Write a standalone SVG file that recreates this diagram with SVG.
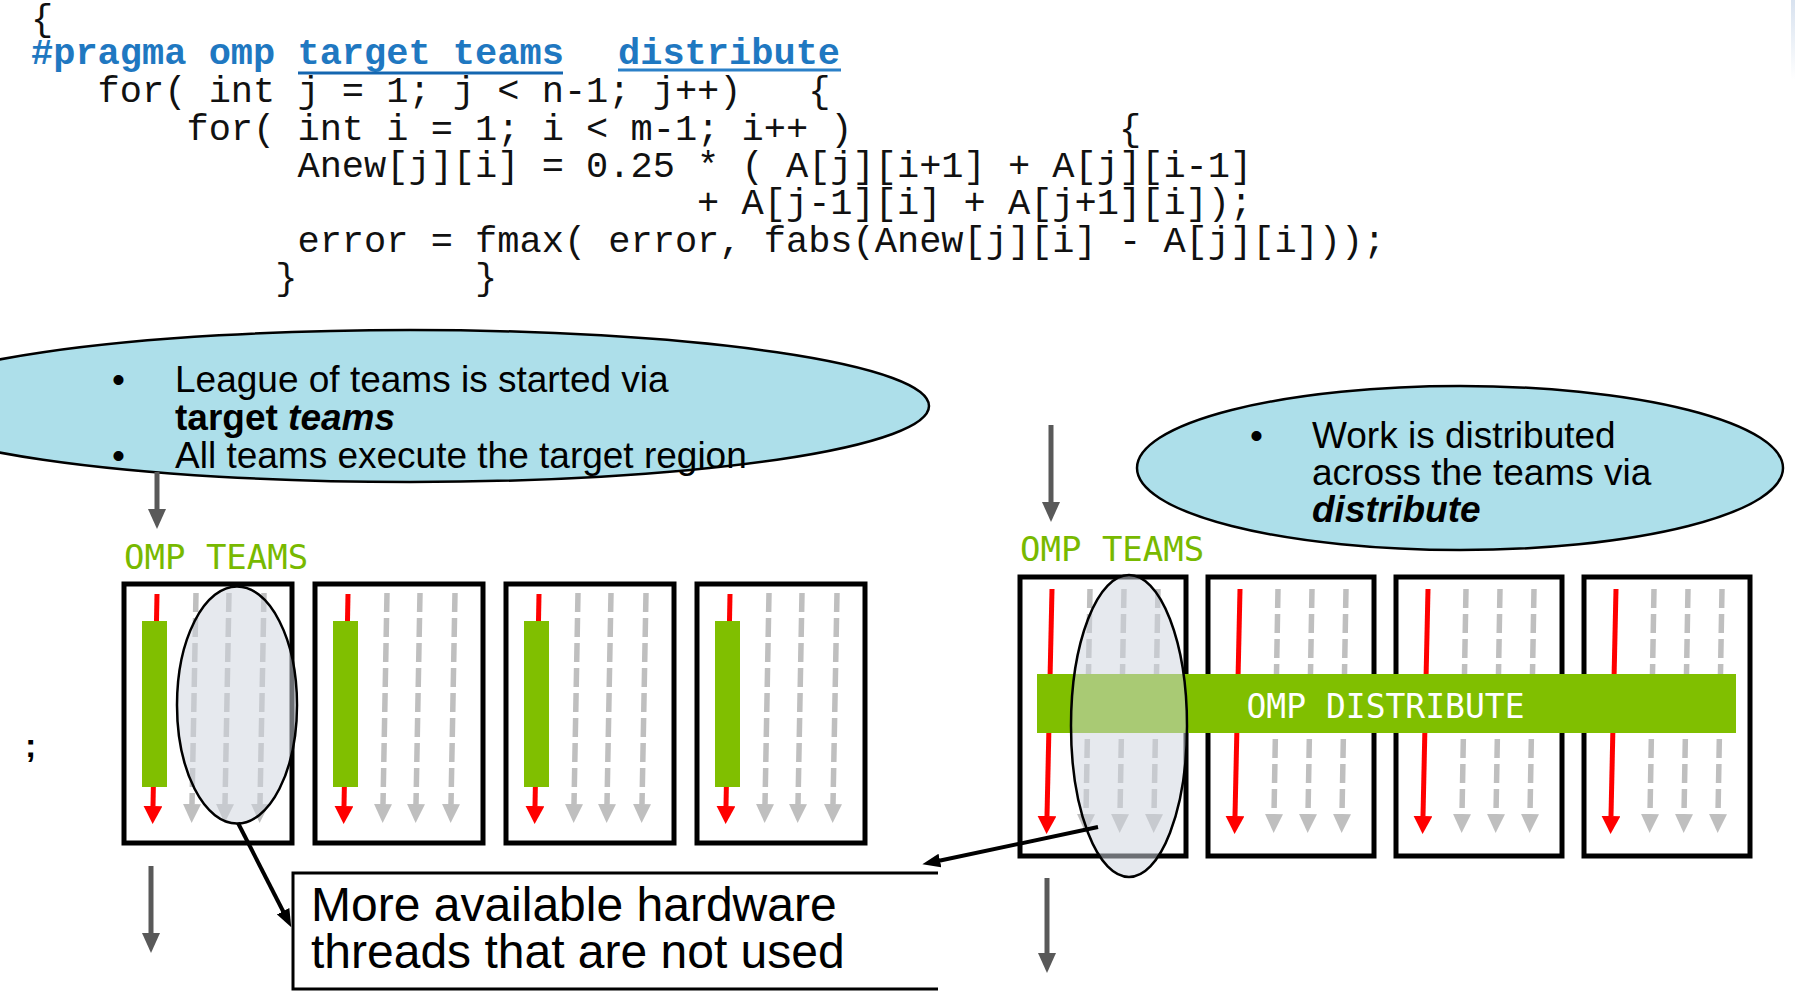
<svg xmlns="http://www.w3.org/2000/svg" xmlns:xlink="http://www.w3.org/1999/xlink" width="1795" height="999" viewBox="0 0 1795 999">
  <style>
    .code { font-family: "Liberation Mono", "Courier New", monospace; font-size: 37px; fill: #111; white-space: pre; }
    .pragma { font-weight: bold; fill: #1f78c1; }
    .bubble { fill: #addfea; stroke: #000; stroke-width: 2.5; }
    .btxt { font-family: "Liberation Sans", Arial, sans-serif; font-size: 37px; fill: #000; }
    .mono { font-family: "DejaVu Sans Mono", "Liberation Mono", monospace; }
    .teamlbl { font-size: 34px; fill: #78b900; }
    .box { fill: #fff; stroke: #000; stroke-width: 5; }
    .red { fill: none; stroke: #ff0000; stroke-width: 5; marker-end: url(#redHead); }
    .thr { fill: none; stroke: #bfbfbf; stroke-width: 5.5; stroke-dasharray: 19 6; marker-end: url(#grayHead); }
    .bar { fill: #80bf00; }
    .lens { fill: #cfd5df; fill-opacity: 0.52; stroke: #000; stroke-width: 2.5; }
    .flow { stroke: #595959; stroke-width: 5; marker-end: url(#flowHead); }
    .ptr { fill: none; stroke: #000; stroke-width: 4; marker-end: url(#ptrHead); }
  </style>
  <defs>
    <marker id="redHead" markerUnits="userSpaceOnUse" markerWidth="18" markerHeight="19" refX="0" refY="9.5" orient="auto">
      <path d="M0,0 L18,9.5 L0,19 z" fill="#ff0000"/>
    </marker>
    <marker id="grayHead" markerUnits="userSpaceOnUse" markerWidth="19" markerHeight="18" refX="0" refY="9" orient="auto">
      <path d="M0,0 L19,9 L0,18 z" fill="#bfbfbf"/>
    </marker>
    <marker id="flowHead" markerUnits="userSpaceOnUse" markerWidth="20" markerHeight="18" refX="0" refY="9" orient="auto">
      <path d="M0,0 L20,9 L0,18 z" fill="#595959"/>
    </marker>
    <marker id="ptrHead" markerUnits="userSpaceOnUse" markerWidth="18" markerHeight="14" refX="2" refY="7" orient="auto">
      <path d="M0,0 L18,7 L0,14 z" fill="#000"/>
    </marker>
    <linearGradient id="edgeShade" x1="0" y1="0" x2="0" y2="1">
      <stop offset="0" stop-color="#d8e2ef"/>
      <stop offset="1" stop-color="#ffffff"/>
    </linearGradient>
    <!-- team box used by "target teams": one busy thread plus three idle ones -->
    <g id="teamIdle">
      <rect class="box" x="0" y="0" width="168" height="259"/>
      <path class="red" d="M33,10 L29,222"/>
      <rect class="bar" x="18" y="37" width="25" height="166"/>
      <path class="thr" d="M72,9 L68,220"/>
      <path class="thr" d="M105,9 L101,220"/>
      <path class="thr" d="M140,9 L136,220"/>
    </g>
    <!-- team box used by "distribute": full-length thread lanes -->
    <g id="teamDist">
      <rect class="box" x="0" y="0" width="166" height="279"/>
      <path class="red" d="M32,12 L27,239"/>
      <path class="thr" d="M70,12 L66,237"/>
      <path class="thr" d="M104,12 L100,237"/>
      <path class="thr" d="M138,12 L134,237"/>
    </g>
  </defs>

  <rect width="1795" height="999" fill="#fff"/>
  <rect x="1791" y="0" width="4" height="80" fill="url(#edgeShade)"/>

  <!-- source listing -->
  <g id="code">
    <text class="code" x="31" y="30">{</text>
    <text class="code pragma" x="31" y="64">#pragma omp target teams</text>
    <text class="code pragma" x="618" y="64">distribute</text>
    <line x1="298" y1="73" x2="563" y2="73" stroke="#1466b0" stroke-width="3"/>
    <line x1="618" y1="70" x2="841" y2="70" stroke="#2b80c8" stroke-width="3"/>
    <text class="code" x="31" y="102" xml:space="preserve">   for( int j = 1; j &lt; n-1; j++)   {</text>
    <text class="code" x="31" y="139.5" xml:space="preserve">       for( int i = 1; i &lt; m-1; i++ )            {</text>
    <text class="code" x="31" y="177" xml:space="preserve">            Anew[j][i] = 0.25 * ( A[j][i+1] + A[j][i-1]</text>
    <text class="code" x="31" y="214" xml:space="preserve">                              + A[j-1][i] + A[j+1][i]);</text>
    <text class="code" x="31" y="251.5" xml:space="preserve">            error = fmax( error, fabs(Anew[j][i] - A[j][i]));</text>
    <text class="code" x="31" y="289" xml:space="preserve">           }        }</text>
  </g>

  <!-- callout: league of teams -->
  <g id="note-teams">
    <ellipse class="bubble" cx="410" cy="406" rx="519" ry="76"/>
    <text class="btxt" x="112" y="392">•</text>
    <text class="btxt" x="175" y="392">League of teams is started via</text>
    <text class="btxt" x="175" y="430" font-weight="bold">target <tspan font-style="italic">teams</tspan></text>
    <text class="btxt" x="112" y="468">•</text>
    <text class="btxt" x="175" y="468">All teams execute the target region</text>
  </g>

  <!-- callout: distribute -->
  <g id="note-distribute">
    <ellipse class="bubble" cx="1460" cy="468" rx="323" ry="82"/>
    <text class="btxt" x="1250" y="448">•</text>
    <text class="btxt" x="1312" y="448">Work is distributed</text>
    <text class="btxt" x="1312" y="485">across the teams via</text>
    <text class="btxt" x="1312" y="522" font-weight="bold" font-style="italic">distribute</text>
  </g>

  <text x="25" y="757" font-family="Liberation Sans, Arial, sans-serif" font-size="34" font-weight="bold">;</text>

  <!-- left: teams only -->
  <g id="teams-left">
    <text class="mono teamlbl" x="124" y="569">OMP TEAMS</text>
    <g id="team-l1"><use xlink:href="#teamIdle" x="124" y="584"/></g>
    <g id="team-l2"><use xlink:href="#teamIdle" x="315" y="584"/></g>
    <g id="team-l3"><use xlink:href="#teamIdle" x="506" y="584"/></g>
    <g id="team-l4"><use xlink:href="#teamIdle" x="697" y="584"/></g>
    <ellipse id="idle-lens-left" class="lens" cx="237" cy="705" rx="60" ry="118.5"/>
  </g>

  <!-- right: teams with distribute -->
  <g id="teams-right">
    <text class="mono teamlbl" x="1020" y="561">OMP TEAMS</text>
    <g id="team-r1"><use xlink:href="#teamDist" x="1020" y="577"/></g>
    <g id="team-r2"><use xlink:href="#teamDist" x="1208" y="577"/></g>
    <g id="team-r3"><use xlink:href="#teamDist" x="1396" y="577"/></g>
    <g id="team-r4"><use xlink:href="#teamDist" x="1584" y="577"/></g>
    <g id="distribute-band">
      <rect x="1037" y="674" width="699" height="59" fill="#80bf00"/>
      <text class="mono" x="1385.5" y="718" font-size="33" fill="#fff" text-anchor="middle">OMP DISTRIBUTE</text>
    </g>
    <ellipse id="idle-lens-right" class="lens" cx="1129" cy="726" rx="58" ry="151"/>
  </g>

  <!-- note box -->
  <g id="note-idle">
    <path d="M938,873 H293 V989 H938" fill="none" stroke="#000" stroke-width="3"/>
    <text x="311" y="921" font-family="Liberation Sans, Arial, sans-serif" font-size="48">More available hardware</text>
    <text x="311" y="968" font-family="Liberation Sans, Arial, sans-serif" font-size="48">threads that are not used</text>
  </g>

  <!-- connectors -->
  <g id="connectors">
    <line class="flow" x1="157" y1="472" x2="157" y2="509"/>
    <line class="flow" x1="151" y1="866" x2="151" y2="933"/>
    <line class="flow" x1="1051" y1="425" x2="1051" y2="502"/>
    <line class="flow" x1="1047" y1="878" x2="1047" y2="953"/>
    <path class="ptr" d="M238,823 L284,913"/>
    <path class="ptr" d="M1098,827 L938,861"/>
  </g>
</svg>
